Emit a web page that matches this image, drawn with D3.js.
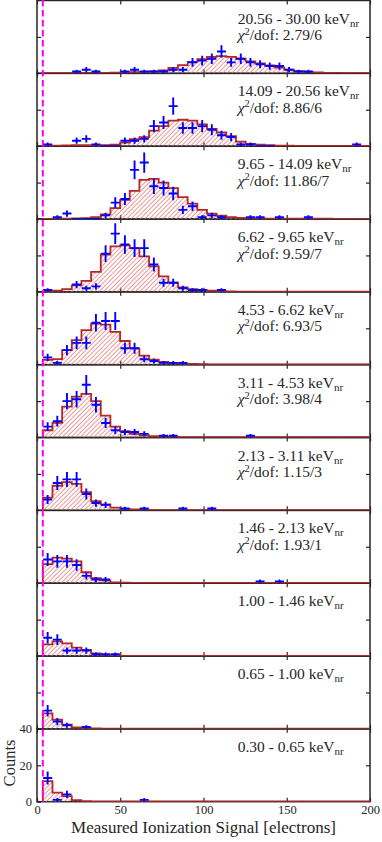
<!DOCTYPE html>
<html lang="en">
<head>
  <meta charset="UTF-8">
  <title>Ionization signal per recoil energy bin</title>
  <script src="https://d3js.org/d3.v7.min.js"></script>
  <style>
    body { margin: 0; background: #fff; }
    svg { display: block; font-family: "Liberation Serif", "DejaVu Serif", serif; }
  </style>
</head>
<body>
  <svg id="chart" width="382" height="842"></svg>

  <script>
    // energy bins (keVnr), top panel first
    const energyBins = ['20.56 - 30.00', '14.09 - 20.56', '9.65 - 14.09', '6.62 - 9.65', '4.53 - 6.62',
      '3.11 - 4.53', '2.13 - 3.11', '1.46 - 2.13', '1.00 - 1.46', '0.65 - 1.00', '0.30 - 0.65'];
    const chiLabels = ['2.79/6', '8.86/6', '11.86/7', '9.59/7', '6.93/5', '3.98/4', '1.15/3', '1.93/1', null, null, null];

    // measured counts per 5.8 e- bin (null = no marker); missing trailing bins = no marker
    const dataCounts = [
      [null, null, null, 1, 2, 1, null, null, 1, 2, 1, 1, 1, 2, 2, 6, 7, 8, 12, 6, 8, 6, 5, 4, 4, 2, 1, 1],
      [1, null, null, 3, 4, 1, 0, 0, 3, 3, 4, 11, 13, 22, 10, 10, 11, 9, 6, 5, 1, 1, 0, 0, null, null, null, null, null, null, null, null, 1],
      [null, 1, 3, 0, 0, 0, 2, 9, 11, 27, 31, 18, 17, 14, 5, 7, 1, 2, 1, null, null, 1, 1, null, 1, null, null, 1],
      [1, null, null, 4, 2, 3, 21, 32, 26, 24, 24, 15, 5, 5, 2, 1, 1, null, 1],
      [4, 1, 8, 12, 12, 23, 24, 24, 9, 9, 3, 2, 1, 1, 1],
      [6, 9, 20, 21, 29, 18, 8, 4, 3, 3, 2, null, 1, 1, null, null, null, null, null, null, null, 1],
      [6, 15, 17, 17, 9, 4, 3, null, 1, null, 1, null, null, null, 1, null, null, 1],
      [13, 12, 12, 10, 4, 2, 2, null, null, null, null, null, null, null, null, null, null, null, null, null, null, null, 1, null, 1],
      [10, 9, 3, 3, 3, 1, 1, 1],
      [10, 4, 2, null, 1],
      [13, 1, 4, null, null, null, null, null, null, null, 1]
    ];

    // fitted model per bin
    const modelCounts = [
      [0.1, 0.1, 0.15, 0.2, 0.2, 0.25, 0.3, 0.35, 0.45, 0.6, 0.8, 1.0, 1.6, 3.0, 4.5, 6.3, 7.8, 9.0, 9.5, 9.0, 8.0, 6.6, 5.5, 4.3, 3.2, 2.0, 1.2, 0.7, 0.45, 0.3, 0.2, 0.15, 0.1, 0.1],
      [0.2, 0.3, 0.4, 0.5, 0.5, 0.5, 0.6, 0.9, 2, 3.8, 5, 8.5, 11, 14, 14.5, 14, 12, 9.5, 7.5, 5.5, 2.5, 1.3, 0.8, 0.5, 0.35, 0.25, 0.2, 0.2, 0.2, 0.2, 0.2, 0.2, 0.2, 0.2],
      [0.1, 0.15, 0.2, 0.3, 0.5, 1, 2.5, 6, 10.5, 15.5, 21.5, 22, 20, 17, 12, 8.5, 5, 3, 1.8, 1, 0.6, 0.4, 0.3, 0.2, 0.2, 0.2, 0.2, 0.2, 0.15, 0.15, 0.1, 0.1, 0.1, 0.1],
      [0.3, 0.7, 1.5, 3.5, 6, 11, 20.5, 25, 25.5, 24, 19.5, 14, 8.5, 5, 2.5, 1.5, 1, 0.6, 0.4, 0.25, 0.15, 0.15, 0.15, 0.15, 0.15, 0.15, 0.15, 0.15, 0.15, 0.15, 0.15, 0.15, 0.15, 0.15],
      [2.7, 3, 8, 13.5, 19, 22.5, 22, 18, 13, 9, 5, 2.8, 1.5, 0.9, 0.6, 0.4, 0.3, 0.15, 0.15, 0.15, 0.15, 0.15, 0.15, 0.15, 0.15, 0.15, 0.15, 0.15, 0.15, 0.15, 0.15, 0.15, 0.15, 0.15],
      [4, 8, 17, 22.5, 24, 20, 12, 6, 3.5, 2, 1.2, 0.7, 0.4, 0.3, 0.15, 0.15, 0.15, 0.15, 0.15, 0.15, 0.15, 0.15, 0.15, 0.15, 0.15, 0.15, 0.15, 0.15, 0.15, 0.15, 0.15, 0.15, 0.15, 0.15],
      [7, 13.5, 15.5, 14.5, 10, 5, 3.3, 1.5, 0.8, 0.5, 0.3, 0.15, 0.15, 0.15, 0.15, 0.15, 0.15, 0.15, 0.15, 0.15, 0.15, 0.15, 0.15, 0.15, 0.15, 0.15, 0.15, 0.15, 0.15, 0.15, 0.15, 0.15, 0.15, 0.15],
      [10.5, 14, 13.5, 12, 6, 2.7, 1.6, 0.5, 0.25, 0.1, 0.1, 0.1, 0.1, 0.1, 0.1, 0.1, 0.1, 0.1, 0.1, 0.1, 0.1, 0.1, 0.1, 0.1, 0.1, 0.1, 0.1, 0.1, 0.1, 0.1, 0.1, 0.1, 0.1, 0.1],
      [6.4, 8, 7, 4.6, 3.3, 1.5, 0.6, 0.3, 0.1, 0.1, 0.1, 0.1, 0.1, 0.1, 0.1, 0.1, 0.1, 0.1, 0.1, 0.1, 0.1, 0.1, 0.1, 0.1, 0.1, 0.1, 0.1, 0.1, 0.1, 0.1, 0.1, 0.1, 0.1, 0.1],
      [8.5, 5, 2.3, 0.8, 0.35, 0.2, 0.1, 0.1, 0.1, 0.1, 0.1, 0.1, 0.1, 0.1, 0.1, 0.1, 0.1, 0.1, 0.1, 0.1, 0.1, 0.1, 0.1, 0.1, 0.1, 0.1, 0.1, 0.1, 0.1, 0.1, 0.1, 0.1, 0.1, 0.1],
      [11.3, 5, 3.1, 0.9, 0.3, 0.15, 0.1, 0.1, 0.1, 0.1, 0.1, 0.1, 0.1, 0.1, 0.1, 0.1, 0.1, 0.1, 0.1, 0.1, 0.1, 0.1, 0.1, 0.1, 0.1, 0.1, 0.1, 0.1, 0.1, 0.1, 0.1, 0.1, 0.1, 0.1]
    ];

    const xTicks = [0, 50, 100, 150, 200];
    const yTicks = [0, 20, 40];
    const threshold = 3.5;   // analysis threshold (electrons)
    const binWidth = 5.8;

    const svg = d3.select('#chart');
    const plotLeft = 37, plotRight = 370, plotTop = 0.5, plotBottom = 801.7;
    const axisColor = '#262626';
    const nPanels = energyBins.length;
    const panelH = (plotBottom - plotTop) / nPanels;
    const nBins = modelCounts[0].length;
    const edges = d3.range(nBins + 1).map(k => threshold + k * binWidth);

    const x = d3.scaleLinear().domain([0, 200]).range([plotLeft, plotRight]);

    // hatch pattern + clip paths
    const defs = svg.append('defs');
    defs.append('pattern')
      .attr('id', 'hatch')
      .attr('patternUnits', 'userSpaceOnUse')
      .attr('width', 3.2).attr('height', 3.2)
      .attr('patternTransform', 'rotate(45)')
      .append('line')
      .attr('x1', 1).attr('x2', 1).attr('y1', 0).attr('y2', 3.2)
      .attr('stroke', '#e07a7a').attr('stroke-width', 0.8);

    const frames = svg.append('g');
    const layers = svg.append('g');

    energyBins.forEach((label, i) => {
      const top = plotTop + i * panelH;
      const bot = top + panelH;
      const y = d3.scaleLinear().domain([0, 40]).range([bot, top]);
      const last = i === nPanels - 1;

      // axes (inward ticks on all four sides)
      const fg = frames.append('g').attr('color', axisColor);
      const bottomAx = fg.append('g').attr('transform', `translate(0,${bot})`)
        .call(d3.axisBottom(x).tickValues(xTicks).tickSizeInner(-4).tickSizeOuter(0).tickPadding(3)
          .tickFormat(last ? d3.format('d') : ''));
      fg.append('g').attr('transform', `translate(0,${top})`)
        .call(d3.axisTop(x).tickValues(xTicks).tickSizeInner(-4).tickSizeOuter(0).tickFormat(''));
      const leftAx = fg.append('g').attr('transform', `translate(${plotLeft},0)`)
        .call(d3.axisLeft(y).tickValues(last ? yTicks : [20]).tickSizeInner(-4).tickSizeOuter(0).tickPadding(5)
          .tickFormat(last ? d3.format('d') : ''));
      fg.append('g').attr('transform', `translate(${plotRight},0)`)
        .call(d3.axisRight(y).tickValues([20]).tickSizeInner(-4).tickSizeOuter(0).tickFormat(''));
      fg.selectAll('.domain').remove();
      fg.selectAll('.tick line').attr('stroke-width', 1.2);
      [bottomAx, leftAx].forEach(a => a.selectAll('text')
        .attr('font-family', '"Liberation Serif", serif').attr('font-size', 12.5).attr('fill', axisColor));
      fg.append('rect')
        .attr('x', plotLeft).attr('y', top)
        .attr('width', plotRight - plotLeft).attr('height', panelH)
        .attr('fill', 'none').attr('stroke', axisColor).attr('stroke-width', 1.5);

      // data layer
      defs.append('clipPath').attr('id', 'clip' + i)
        .append('rect').attr('x', plotLeft).attr('y', top - 1)
        .attr('width', plotRight - plotLeft).attr('height', panelH + 1);
      const g = layers.append('g').attr('clip-path', `url(#clip${i})`);

      const model = modelCounts[i];
      const steps = model.map((m, k) => [edges[k], m]).concat([[edges[nBins], model[nBins - 1]]]);

      g.append('path')
        .attr('d', d3.area().curve(d3.curveStepAfter)
          .x(d => x(d[0])).y0(y(0)).y1(d => y(d[1]))(steps))
        .attr('fill', 'url(#hatch)');
      g.append('path')
        .attr('d', d3.line().curve(d3.curveStepAfter)
          .x(d => x(d[0])).y(d => y(d[1]))([[edges[0], 0]].concat(steps)))
        .attr('fill', 'none')
        .attr('stroke', '#b3272b')
        .attr('stroke-width', 1.8);

      // measured points: horizontal = bin, vertical = sqrt(N)
      const pts = dataCounts[i].map((c, k) => ({ k, c })).filter(d => d.c !== null);
      const cx = d => x(edges[d.k] + binWidth / 2);
      const hw = 2.7;
      g.selectAll('.hbar').data(pts).join('line')
        .attr('x1', d => x(edges[d.k] + binWidth / 2 - hw))
        .attr('x2', d => x(edges[d.k] + binWidth / 2 + hw))
        .attr('y1', d => y(d.c)).attr('y2', d => y(d.c))
        .attr('stroke', '#0000ff').attr('stroke-width', 1.9);
      g.selectAll('.vbar').data(pts.filter(d => d.c > 0)).join('line')
        .attr('x1', cx).attr('x2', cx)
        .attr('y1', d => y(d.c - Math.sqrt(d.c))).attr('y2', d => y(d.c + Math.sqrt(d.c)))
        .attr('stroke', '#0000ff').attr('stroke-width', 1.9);

      // panel labels
      const lx = x(120.5);
      const t1 = layers.append('text')
        .attr('x', lx).attr('y', top + 23)
        .attr('font-size', 15.5).attr('fill', axisColor);
      t1.append('tspan').text(label + ' keV');
      t1.append('tspan').attr('font-size', 11).attr('dy', 3).text('nr');
      if (chiLabels[i]) {
        const t2 = layers.append('text')
          .attr('x', lx).attr('y', top + 39.5)
          .attr('font-size', 15.5).attr('fill', axisColor);
        t2.append('tspan').attr('font-style', 'italic').text('χ');
        t2.append('tspan').attr('font-size', 10.5).attr('dy', -5.5).text('2');
        t2.append('tspan').attr('dy', 5.5).text('/dof:  ' + chiLabels[i]);
      }
    });

    // threshold line
    svg.append('line')
      .attr('x1', x(threshold)).attr('x2', x(threshold))
      .attr('y1', 0).attr('y2', plotBottom)
      .attr('stroke', '#ff00ff').attr('stroke-width', 2)
      .attr('stroke-dasharray', '6.5,3.5');

    // axis titles
    svg.append('text')
      .attr('x', (plotLeft + plotRight) / 2).attr('y', 833)
      .attr('text-anchor', 'middle')
      .attr('font-size', 17).attr('fill', axisColor)
      .text('Measured Ionization Signal [electrons]');
    svg.append('text')
      .attr('transform', `translate(14.5, 763) rotate(-90)`)
      .attr('text-anchor', 'middle')
      .attr('font-size', 16.5).attr('fill', axisColor)
      .text('Counts');
  </script>
</body>
</html>
